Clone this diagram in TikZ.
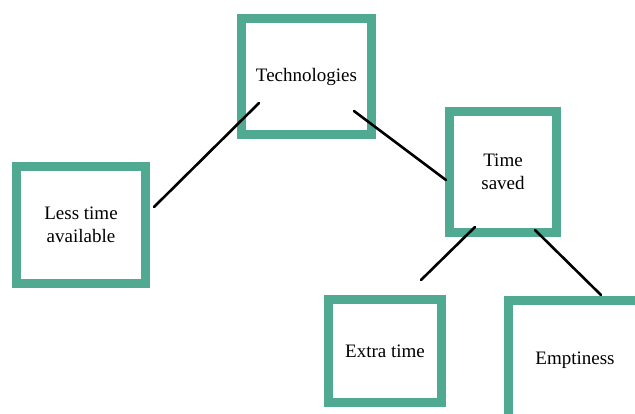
\documentclass[tikz,border=0pt]{standalone}
\usepackage{fontspec}
\setmainfont{Liberation Serif}
\definecolor{teal1}{RGB}{80,170,146}
\begin{document}
\begin{tikzpicture}[x=1pt,y=-1pt,
  tbox/.style={draw=teal1,line width=9pt,fill=white,inner sep=0pt,align=center,
    font=\fontsize{19}{23}\selectfont},
  link/.style={draw=black,line width=2.6pt,line cap=round}]
\useasboundingbox (0,0) rectangle (635,413);
\clip (0,0) rectangle (635,413);
\fill[white] (0,0) rectangle (635,413);
\node[tbox,minimum width=130pt,minimum height=116pt] (tech) at (306.5,76.5) {Technologies};
\node[tbox,minimum width=129pt,minimum height=117pt] (less) at (81,225) {Less time\\available};
\node[tbox,minimum width=107pt,minimum height=121pt] (saved) at (503,172) {Time\\saved};
\node[tbox,minimum width=113pt,minimum height=103pt] (extra) at (385,351) {Extra time};
\node[tbox,minimum width=133pt,minimum height=119pt] (empt) at (575,360) {Emptiness};
\coordinate (l1a) at (154,207);
\coordinate (l1b) at (259,103);
\coordinate (l2a) at (354,111);
\coordinate (l2b) at (446,180);
\coordinate (l3a) at (475,227);
\coordinate (l3b) at (421,280);
\coordinate (l4a) at (535,230);
\coordinate (l4b) at (601,295);
\draw[link] (l1a) -- (l1b);
\draw[link] (l2a) -- (l2b);
\draw[link] (l3a) -- (l3b);
\draw[link] (l4a) -- (l4b);
\end{tikzpicture}
\end{document}
